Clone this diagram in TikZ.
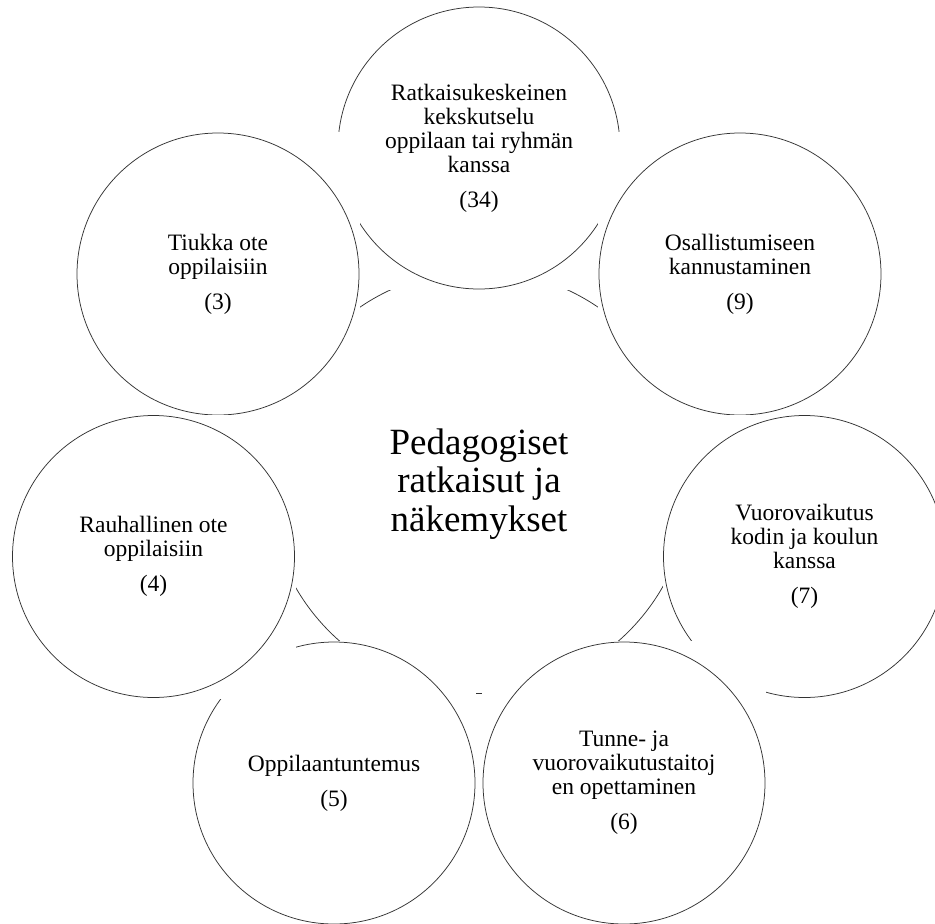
\documentclass[tikz,border=0pt]{standalone}
\usepackage{fontspec}
\setmainfont{Liberation Serif}
\begin{document}
\begin{tikzpicture}[x=1pt,y=-1pt,
  ringline/.style={line width=0.75pt, draw=black!80},
  sat/.style={rectangle, fill=white, minimum width=284pt, minimum height=284pt,
    inner sep=0pt, align=center, text=black,
    font=\fontsize{23.5}{24}\selectfont,
    path picture={\draw[ringline] (path picture bounding box.center) circle[radius=141pt];}},
  hubtext/.style={align=center, text=black, font=\fontsize{37}{38.5}\selectfont}]
\useasboundingbox (0,0) rectangle (935,924);
\clip (0,0) rectangle (935,924);
\coordinate (hub) at (479,482);
\draw[ringline] (hub) circle[radius=211.5pt];
\node[sat] (top) at (479,148) {Ratkaisukeskeinen\\kekskutselu\\oppilaan tai ryhmän\\kanssa\\[11pt](34)};
\node[sat] (tiukka) at (218,274) {Tiukka ote\\oppilaisiin\\[11pt](3)};
\node[sat] (osall) at (740,274) {Osallistumiseen\\kannustaminen\\[11pt](9)};
\node[sat] (vuoro) at (804.5,556.5) {Vuorovaikutus\\kodin ja koulun\\kanssa\\[11pt](7)};
\node[sat] (tunne) at (624,783) {Tunne- ja\\vuorovaikutustaitoj\\en opettaminen\\[11pt](6)};
\node[sat] (oppil) at (334,783) {Oppilaantuntemus\\[11pt](5)};
\node[sat] (rauh) at (153.5,556.5) {Rauhallinen ote\\oppilaisiin\\[11pt](4)};
\node[hubtext] (centre) at (479,484) {Pedagogiset\\ratkaisut ja\\näkemykset};
\end{tikzpicture}
\end{document}
